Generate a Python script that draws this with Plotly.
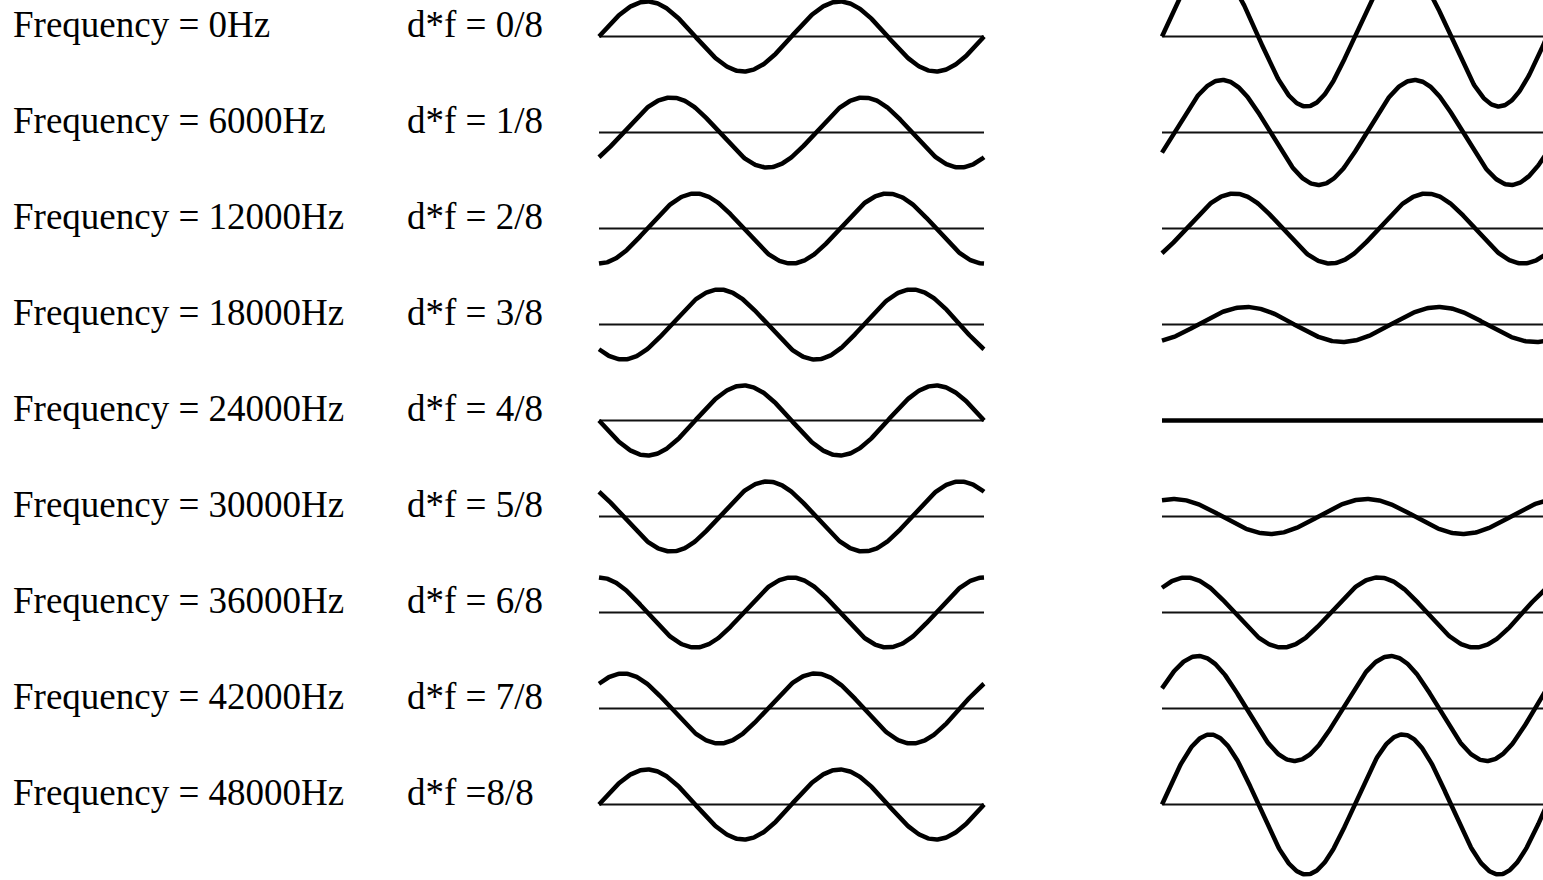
import numpy as np
import plotly.graph_objects as go

# labels per row
freq_labels = ["Frequency = 0Hz", "Frequency = 6000Hz", "Frequency = 12000Hz",
               "Frequency = 18000Hz", "Frequency = 24000Hz", "Frequency = 30000Hz",
               "Frequency = 36000Hz", "Frequency = 42000Hz", "Frequency = 48000Hz"]
df_labels = ["d*f = 0/8", "d*f = 1/8", "d*f = 2/8", "d*f = 3/8", "d*f = 4/8",
             "d*f = 5/8", "d*f = 6/8", "d*f = 7/8", "d*f =8/8"]
# delay as fraction of a cycle (d*f)
delay_cycles = [0/8, 1/8, 2/8, 3/8, 4/8, 5/8, 6/8, 7/8, 8/8]
# amplitude of the summed wave, relative to a single wave
sum_amplitude = [2.0, 1.5, 1.0, 0.5, 0.0, -0.5, -1.0, -1.5, -2.0]

# layout in pixels
W, H = 1543, 880
row_y0, row_pitch = 36.5, 96
amp_px = 35
period_px = 192.5
n_cycles = 2
mid_x0 = 599
right_x0 = 1162

t = np.linspace(0, n_cycles, 400)

fig = go.Figure()
annotations = []
for i in range(len(freq_labels)):
    yb = row_y0 + i * row_pitch
    d = delay_cycles[i]

    # middle: single delayed wave
    xm = mid_x0 + t * period_px
    ym = yb - amp_px * np.sin(2 * np.pi * (t - d))
    fig.add_trace(go.Scatter(x=[xm[0], xm[-1]], y=[yb, yb], mode="lines",
                             line=dict(color="#111", width=2), hoverinfo="skip"))
    fig.add_trace(go.Scatter(x=xm, y=ym, mode="lines",
                             line=dict(color="black", width=4.5), hoverinfo="skip"))

    # right: sum of original and delayed wave
    xr = right_x0 + t * period_px
    yr = yb - amp_px * sum_amplitude[i] * np.sin(2 * np.pi * (t - d / 2))
    fig.add_trace(go.Scatter(x=[xr[0], xr[-1]], y=[yb, yb], mode="lines",
                             line=dict(color="#111", width=2), hoverinfo="skip"))
    fig.add_trace(go.Scatter(x=xr, y=yr, mode="lines",
                             line=dict(color="black", width=4.5), hoverinfo="skip"))

    for x, txt in [(11, freq_labels[i]), (405, df_labels[i])]:
        annotations.append(dict(x=x, y=yb - 12, text=txt, xref="x", yref="y",
                                xanchor="left", yanchor="middle", showarrow=False,
                                font=dict(family="Liberation Serif", size=37, color="black")))

fig.update_layout(
    width=W, height=H,
    margin=dict(l=0, r=0, t=0, b=0),
    plot_bgcolor="white", paper_bgcolor="white",
    showlegend=False,
    annotations=annotations,
    xaxis=dict(range=[0, W], visible=False, fixedrange=True),
    yaxis=dict(range=[H, 0], visible=False, fixedrange=True),
)
# drop the default page margin so the figure sits at the window corner
fig.write_html("out.html", config={"displayModeBar": False},
               post_script="document.body.style.margin='0';")
